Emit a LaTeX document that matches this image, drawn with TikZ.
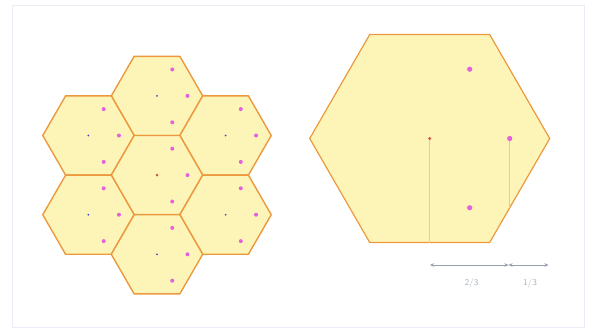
\documentclass[tikz,border=0pt]{standalone}
\usepackage{tikz}
\usetikzlibrary{arrows.meta,shapes.geometric,calc}
\definecolor{cellfill}{RGB}{253,245,184}
\definecolor{celledge}{RGB}{236,153,62}
\definecolor{pinkdot}{RGB}{228,96,222}
\definecolor{bluedot}{RGB}{70,70,200}
\definecolor{reddot}{RGB}{205,80,80}
\definecolor{paleline}{RGB}{236,186,228}
\definecolor{dimgray}{RGB}{150,160,175}
\definecolor{framecol}{RGB}{240,234,246}
\begin{document}
\begin{tikzpicture}[x=1pt,y=-1pt,
  hexcell/.style={regular polygon,regular polygon sides=6,draw=celledge,fill=cellfill,
    line width=1.4pt,inner sep=0pt,minimum size=91.4pt},
  bighex/.style={hexcell,minimum size=240pt,line width=1.2pt},
  pdot/.style={fill=pinkdot},
  bdot/.style={fill=bluedot},
  rdot/.style={fill=reddot},
  guide/.style={draw=paleline,line width=1pt},
  dimarrow/.style={draw=dimgray,line width=0.5pt,{Stealth[length=4pt,width=3.5pt]}-{Stealth[length=4pt,width=3.5pt]}},
  dimlabel/.style={font=\sffamily\small,text=dimgray!80}
]
\useasboundingbox (0,0) rectangle (605,329);
\draw[framecol,line width=0.6pt] (12,5) rectangle (584,327);
% seven-cell cluster
\node[hexcell] (top) at (157,95.9) {};
\node[hexcell] (upleft) at (88.45,135.5) {};
\node[hexcell] (upright) at (225.55,135.5) {};
\node[hexcell] (mid) at (157,175.1) {};
\node[hexcell] (lowleft) at (88.45,214.7) {};
\node[hexcell] (lowright) at (225.55,214.7) {};
\node[hexcell] (bottom) at (157,254.3) {};
\foreach \c in {top,upleft,upright,lowleft,lowright,bottom}{
  \fill[bdot] (\c.center) circle (1pt);
  \foreach \a in {-60,0,60}
    \fill[pdot] ($(\c.center)+(\a:30.5)$) circle (2pt);
}
\fill[rdot] (mid.center) circle (1.4pt);
\foreach \a in {-60,0,60}
  \fill[pdot] ($(mid.center)+(\a:30.5)$) circle (2pt);
% single enlarged cell
\node[bighex] (big) at (429.7,138.5) {};
\coordinate (sideA) at ($(big.center)+(0:80)$);
\coordinate (sideB) at ($(big.center)+(60:80)$);
\coordinate (sideC) at ($(big.center)+(-60:80)$);
\coordinate (footA) at (429.7,242.5);
\coordinate (footB) at (509.7,207.8);
\draw[guide] (big.center) -- (footA);
\draw[guide] (sideA) -- (footB);
\fill[rdot] (big.center) circle (1.6pt);
\foreach \p in {sideA,sideB,sideC}
  \fill[pdot] (\p) circle (2.6pt);
% dimension line
\coordinate (d0) at (430,265);
\coordinate (d1) at (508.5,265);
\coordinate (d2) at (548.5,265);
\draw[dimarrow] (d0) -- (d1);
\draw[dimarrow] (d1) -- (d2);
\node[dimlabel] (twothirds) at (471.5,283) {2/3};
\node[dimlabel] (onethird) at (530,283) {1/3};
\end{tikzpicture}
\end{document}
